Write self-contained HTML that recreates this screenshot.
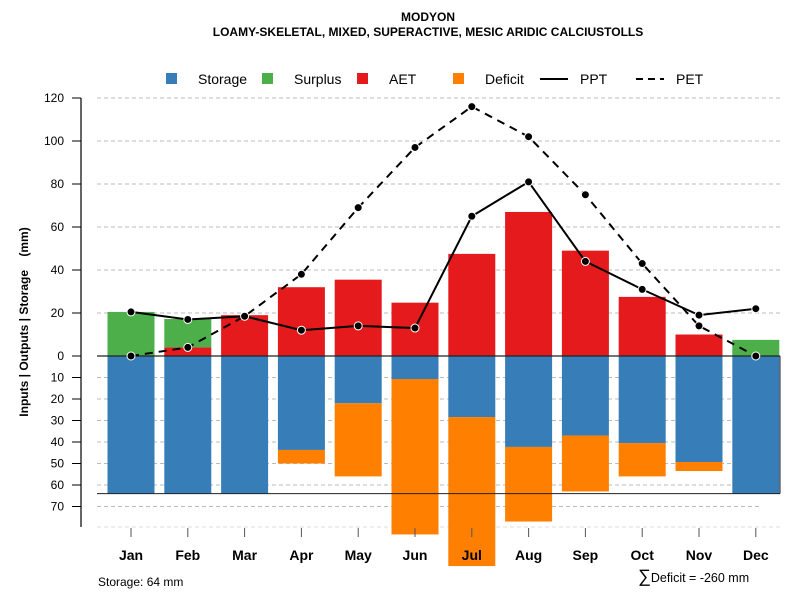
<!DOCTYPE html>
<html><head><meta charset="utf-8"><style>body{margin:0;background:#fff}svg{font-family:"Liberation Sans",sans-serif}</style></head>
<body>
<svg id="c" width="800" height="600" xmlns="http://www.w3.org/2000/svg">
<text x="428" y="21" text-anchor="middle" font-size="12" font-weight="bold">MODYON</text>
<text x="428" y="36" text-anchor="middle" font-size="12" font-weight="bold">LOAMY-SKELETAL, MIXED, SUPERACTIVE, MESIC ARIDIC CALCIUSTOLLS</text>
<g font-size="14">
<rect x="166" y="73" width="11" height="11" fill="#377eb8"/><text x="198" y="84">Storage</text>
<rect x="262" y="73" width="11" height="11" fill="#4daf4a"/><text x="294" y="84">Surplus</text>
<rect x="357" y="73" width="11" height="11" fill="#e41a1c"/><text x="389" y="84">AET</text>
<rect x="453" y="73" width="11" height="11" fill="#ff7f00"/><text x="485" y="84">Deficit</text>
<line x1="540" y1="79" x2="568" y2="79" stroke="#000" stroke-width="2"/><text x="580" y="84">PPT</text>
<line x1="636" y1="79" x2="664" y2="79" stroke="#000" stroke-width="2" stroke-dasharray="7,5"/><text x="676" y="84">PET</text>
</g>
<text transform="translate(28,322) rotate(-90)" text-anchor="middle" font-size="12" font-weight="bold" style="white-space:pre">Inputs | Outputs | Storage    (mm)</text>
<g id="grid"></g><g id="bars"></g><g id="lines"></g><g id="axes"></g>
<text x="98" y="586" font-size="12">Storage: 64 mm</text>
<text x="638" y="582" font-size="12.5"><tspan font-size="18">∑</tspan>Deficit = -260 mm</text>
</svg>
<script>
const months=["Jan","Feb","Mar","Apr","May","Jun","Jul","Aug","Sep","Oct","Nov","Dec"];
const aet=[0,4,19,32,35.5,24.8,47.5,67,49,27.5,10,0];
const surplus=[20.5,13.2,0,0,0,0,0,0,0,0,0,7.5];
const storage=[64,64,64,43.7,22,10.7,28.4,42.3,37,40.5,49.3,64];
const deficit=[0,0,0,6.3,34,72.3,69.3,34.7,26,15.5,4.2,0];
const ppt=[20.5,17,18.5,12,14,13,65,81,44,31,19,22];
const pet=[0,4,18.5,38,69,97,116,102,75,43,14,0];
const topTicks=[0,20,40,60,80,100,120];
const botTicks=[10,20,30,40,50,60,70];
const NS="http://www.w3.org/2000/svg";
const y=v=>356-v*2.15, x=i=>131+i*56.8, bw=47;
function mk(p,t,a){const e=document.createElementNS(NS,t);for(const k in a)e.setAttribute(k,a[k]);document.getElementById(p).appendChild(e);return e;}
topTicks.forEach(v=>{if(v>0){const g=mk('grid','line',{x1:97,x2:783,y1:y(v),y2:y(v),stroke:'#bbb','stroke-dasharray':'4,3'});

}});
botTicks.forEach(v=>{const g=mk('grid','line',{x1:97,x2:760,y1:y(-v),y2:y(-v),stroke:'#bbb','stroke-dasharray':'4,3'});

});
const gb=mk('grid','line',{x1:97,x2:783,y1:527,y2:527,stroke:'#ddd','stroke-dasharray':'4,3'});


months.forEach((m,i)=>{const l=x(i)-bw/2;
let r=mk('bars','rect',{x:l,y:y(aet[i]),width:bw,height:aet[i]*2.15,fill:'#e41a1c'});


r=mk('bars','rect',{x:l,y:y(aet[i]+surplus[i]),width:bw,height:surplus[i]*2.15,fill:'#4daf4a'});


r=mk('bars','rect',{x:l,y:356,width:bw,height:storage[i]*2.15,fill:'#377eb8'});


r=mk('bars','rect',{x:l,y:y(-storage[i]),width:bw,height:deficit[i]*2.15,fill:'#ff7f00'});


});
let zl=mk('bars','line',{x1:97,x2:780,y1:356,y2:356,stroke:'#222','stroke-width':1.2});


let sl=mk('bars','line',{x1:97,x2:780,y1:y(-64),y2:y(-64),stroke:'#222','stroke-width':1});


let rl=mk('bars','line',{x1:780,x2:780,y1:356,y2:y(-64),stroke:'#222','stroke-width':1});


function series(arr,name,dash){const pts=arr.map((v,i)=>x(i)+','+y(v)).join(' ');
const p=mk('lines','polyline',{points:pts,fill:'none',stroke:'#000','stroke-width':2,'stroke-dasharray':dash});


arr.forEach((v,i)=>{const c=mk('lines','circle',{cx:x(i),cy:y(v),r:4,fill:'#000',stroke:'#fff','stroke-width':1});

});}
series(pet,'pet','8,6');series(ppt,'ppt','none');
let ax=mk('axes','line',{x1:81,x2:81,y1:98,y2:527,stroke:'#666','stroke-width':2});


function ytick(v,lab){const t=mk('axes','line',{x1:72,x2:81,y1:y(v),y2:y(v),stroke:'#000'});


const tx=mk('axes','text',{x:64,y:y(v)+4,'text-anchor':'end','font-size':12});tx.textContent=lab;

}
topTicks.forEach(v=>ytick(v,v));botTicks.forEach(v=>ytick(-v,v));
months.forEach((m,i)=>{const t=mk('axes','line',{x1:x(i),x2:x(i),y1:528,y2:537,stroke:'#555'});


const tx=mk('axes','text',{x:x(i),y:560,'text-anchor':'middle','font-size':14,'font-weight':'bold'});tx.textContent=m;

});
</script>
</body></html>
